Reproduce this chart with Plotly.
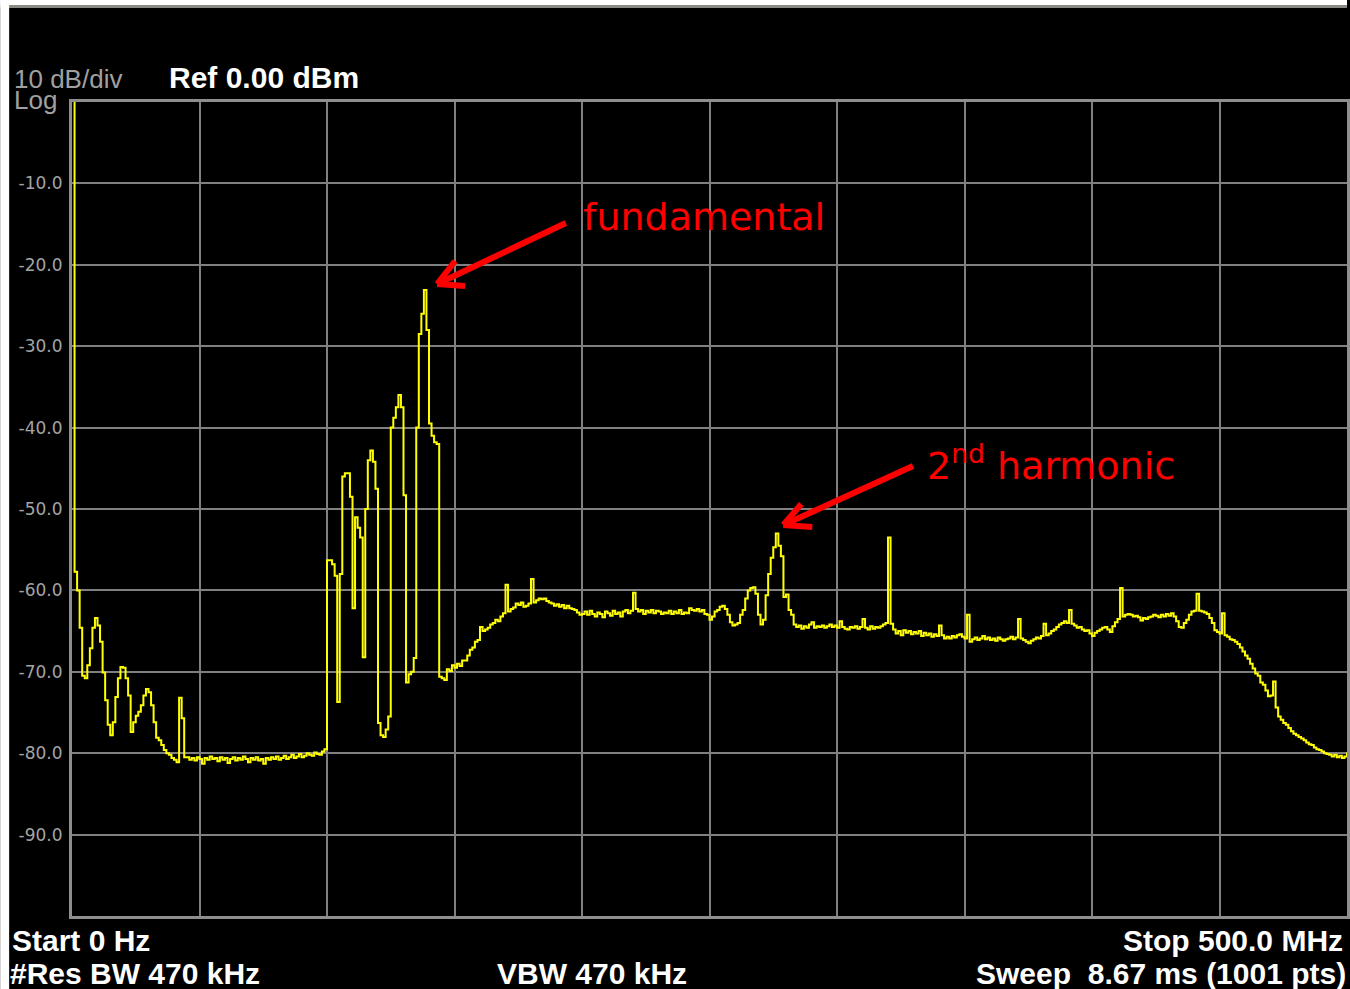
import numpy as np
import plotly.graph_objects as go

# Sweep settings
start_mhz = 0.0
stop_mhz = 500.0
ref_level = 0.0
db_per_div = 10

# Trace levels (dBm), one reading per MHz from 0 to 500 MHz
level_dbm = [
    # 0-44 MHz: LO feedthrough and low-frequency ripples
    5.0, -57.7, -60.0, -64.6, -70.5, -70.8, -69.2, -67.1, -64.6, -63.4,
    -64.3, -66.3, -70.1, -73.5, -76.5, -77.8, -76.2, -73.1, -70.8, -69.4,
    -69.5, -70.8, -72.9, -77.4, -76.2, -75.4, -74.9, -74.1, -72.9, -72.1,
    -72.5, -74.1, -76.2, -78.1, -78.4, -79.0, -79.6, -80.0, -80.2, -80.6,
    -80.8, -81.1, -73.2, -75.7, -80.5,
    # 45-99 MHz: noise floor
    -80.5, -80.8, -80.6, -80.9, -80.5, -80.7, -81.3, -80.6, -80.8, -80.4,
    -80.7, -80.6, -81.0, -80.5, -80.8, -80.6, -81.2, -80.7, -80.5, -80.9,
    -80.6, -80.8, -80.4, -80.7, -81.1, -80.6, -80.8, -80.5, -80.9, -80.7,
    -81.3, -80.6, -80.8, -80.5, -80.7, -80.4, -80.8, -80.6, -80.3, -80.7,
    -80.5, -80.2, -80.6, -80.4, -80.1, -80.5, -80.3, -80.0, -80.2, -80.3,
    -79.9, -80.1, -80.2, -79.8, -79.5,
    # 100-159 MHz: fundamental cluster
    -56.3, -56.3, -56.8, -58.2, -73.7, -58.0, -46.0, -45.6, -45.6, -48.5,
    -62.2, -51.0, -52.3, -53.5, -68.2, -50.0, -44.0, -42.8, -44.2, -47.5,
    -76.3, -77.8, -78.0, -77.1, -75.5, -40.0, -38.8, -37.5, -36.0, -37.5,
    -48.3, -71.3, -70.3, -70.0, -68.3, -40.0, -28.5, -26.0, -23.1, -28.0,
    -39.5, -41.0, -41.8, -42.0, -70.6, -70.8, -71.0, -69.7, -69.9, -69.2,
    -69.5, -69.0, -69.3, -68.6, -68.6, -68.0, -67.3, -67.0, -66.3, -66.1,
    # 160-219 MHz
    -64.5, -65.0, -64.8, -64.6, -64.2, -64.0, -63.6, -63.8, -63.2, -62.8,
    -59.3, -62.6, -62.3, -62.1, -61.6, -61.8, -61.5, -62.0, -61.9, -61.6,
    -58.6, -61.5, -61.2, -61.0, -61.1, -61.0, -61.3, -61.5, -61.6, -61.9,
    -61.7, -62.0, -61.8, -62.2, -61.9, -62.2, -62.3, -62.4, -62.7, -63.0,
    -62.9, -62.6, -63.0, -62.5, -62.9, -63.2, -62.7, -62.9, -63.3, -62.6,
    -62.8, -63.1, -62.5, -62.9, -62.7, -63.2, -62.6, -62.4, -62.8, -62.5,
    # 220-284 MHz: second harmonic region
    -60.3, -62.3, -62.6, -62.4, -62.9, -62.5, -62.7, -62.4, -62.8, -62.5,
    -62.6, -62.9, -62.7, -62.8, -62.5, -62.9, -62.6, -62.8, -62.4, -62.9,
    -62.7, -62.8, -62.2, -62.4, -62.5, -62.3, -62.6, -62.4, -62.9, -63.0,
    -63.6, -63.2, -62.6, -62.4, -62.0, -61.9, -62.3, -63.0, -63.9, -64.3,
    -64.2, -64.0, -63.0, -62.4, -61.0, -60.0, -59.7, -59.6, -60.4, -63.0,
    -64.2, -63.6, -60.6, -58.0, -56.0, -54.7, -53.0, -54.5, -55.8, -60.8,
    -60.5, -62.4, -63.0, -64.2, -64.5,
    # 285-349 MHz
    -64.3, -64.7, -64.4, -64.6, -64.2, -63.9, -64.6, -64.4, -64.5, -64.3,
    -64.6, -64.4, -64.2, -64.5, -64.3, -64.6, -63.8, -64.5, -64.7, -64.8,
    -64.5, -64.6, -64.4, -64.7, -64.5, -63.5, -64.6, -64.8, -64.4, -64.7,
    -64.5, -64.6, -64.4, -64.2, -64.0, -53.5, -64.1, -64.8, -65.3, -65.0,
    -65.5, -64.9, -65.2, -65.0, -65.4, -65.1, -65.3, -65.0, -65.6, -65.2,
    -65.5, -65.3, -65.7, -65.4, -65.6, -64.3, -65.5, -65.9, -65.7, -65.9,
    -65.6, -65.8, -65.5, -65.4, -65.7,
    # 350-409 MHz
    -65.9, -63.0, -66.3, -66.0, -65.8, -66.1, -65.9, -65.6, -66.0, -65.8,
    -66.1, -65.9, -66.2, -65.8, -66.0, -66.2, -66.0, -65.9, -65.7, -66.0,
    -65.8, -63.5, -65.9, -66.1, -66.3, -66.5, -66.2, -66.0, -65.8, -65.9,
    -65.6, -64.1, -65.5, -65.3, -65.0, -64.8, -64.5, -64.2, -64.0, -63.8,
    -64.0, -62.4, -64.1, -64.3, -64.6, -64.5, -64.8, -65.0, -64.9, -65.3,
    -65.6, -65.2, -65.0, -64.8, -64.6, -64.5, -64.8, -65.1, -64.4, -63.9,
    # 410-469 MHz
    -63.5, -59.7, -63.2, -63.0, -62.9, -63.0, -63.2, -63.1, -63.3, -63.7,
    -63.4, -63.5, -63.3, -63.2, -63.0, -63.1, -63.3, -63.0, -63.2, -62.9,
    -63.1, -62.8, -63.2, -63.8, -64.5, -64.6, -64.0, -63.6, -63.0, -62.6,
    -62.5, -60.4, -62.5, -62.6, -62.7, -62.9, -63.4, -64.0, -64.9, -65.1,
    -65.3, -62.8, -65.5, -65.7, -66.0, -66.1, -66.3, -66.6, -67.0, -67.5,
    -68.0, -68.4, -69.0, -69.6, -70.2, -70.5, -71.3, -71.6, -72.3, -73.0,
    # 470-500 MHz: band edge roll-off
    -72.9, -71.2, -74.4, -75.5, -75.9, -76.3, -76.5, -76.9, -77.3, -77.6,
    -77.8, -78.0, -78.2, -78.4, -78.7, -78.9, -79.0, -79.3, -79.5, -79.6,
    -79.8, -80.0, -80.1, -80.2, -80.4, -80.2, -80.5, -80.3, -80.6, -80.4,
    -79.9,
]

freq_mhz = np.linspace(start_mhz, stop_mhz, len(level_dbm))

y_ticks = [-90, -80, -70, -60, -50, -40, -30, -20, -10]
y_tick_text = ["-90.0", "-80.0", "-70.0", "-60.0", "-50.0", "-40.0", "-30.0", "-20.0", "-10.0"]

# Canvas geometry (pixels) used to place text in paper coordinates
W, H = 1350, 989
L, R, T, B = 72, 0, 102, 73
PW, PH = W - L - R, H - T - B


def px(x):
    return (x - L) / PW


def py(y):
    return (H - B - y) / PH


fig = go.Figure()
fig.add_trace(go.Scatter(
    x=freq_mhz, y=level_dbm, mode="lines",
    line=dict(color="#ffff00", width=2, shape="hv"),
    hoverinfo="skip", showlegend=False,
))

grid_col = "#808080"
frame_col = "#8e8e8e"
fig.update_xaxes(
    range=[start_mhz, stop_mhz], dtick=50, tick0=0,
    showgrid=True, gridcolor=grid_col, gridwidth=1.5,
    showticklabels=False, ticks="", zeroline=False,
    showline=True, linecolor=frame_col, linewidth=3, mirror=True,
)
fig.update_yaxes(
    range=[ref_level - 10 * db_per_div, ref_level],
    tickvals=y_ticks, ticktext=y_tick_text,
    showgrid=True, gridcolor=grid_col, gridwidth=1.5,
    ticks="", zeroline=False,
    tickfont=dict(family="DejaVu Sans", size=17, color="#a4a4a4"),
    showline=True, linecolor=frame_col, linewidth=3, mirror=True,
    ticklabelstandoff=3,
)

shapes = [
    # white strip across the top with a grey edge
    dict(type="rect", xref="paper", yref="paper", x0=px(0), x1=px(W), y0=py(5), y1=py(0),
         fillcolor="white", line_width=0, layer="above"),
    dict(type="rect", xref="paper", yref="paper", x0=px(0), x1=px(W), y0=py(8), y1=py(5),
         fillcolor="#8a8a82", line_width=0, layer="above"),
    # white strip on the left
    dict(type="rect", xref="paper", yref="paper", x0=px(0), x1=px(9), y0=py(H), y1=py(0),
         fillcolor="white", line_width=0, layer="above"),
]


def arrow(tail, tip, arm1, arm2):
    pts = [(tail, tip), (tip, arm1), (tip, arm2)]
    out = []
    for a, b in pts:
        out.append(dict(type="line", xref="paper", yref="paper",
                        x0=px(a[0]), y0=py(a[1]), x1=px(b[0]), y1=py(b[1]),
                        line=dict(color="#ff0000", width=6), layer="above"))
    return out


shapes += arrow((567, 223), (438, 284), (456, 261), (466, 286))
shapes += arrow((915, 466), (785, 525), (803, 504), (814, 527))

white_bold = dict(family="Liberation Sans", size=30, color="white")
grey = dict(family="Liberation Sans", size=26, color="#a0a0a0")
red = dict(family="DejaVu Sans", size=38, color="#ff0000")

annotations = [
    dict(text="10 dB/div", x=px(13), y=py(79), xanchor="left", yanchor="middle", font=grey),
    dict(text="Log", x=px(13), y=py(100), xanchor="left", yanchor="middle", font=grey),
    dict(text="<b>Ref 0.00 dBm</b>", x=px(168), y=py(78), xanchor="left", yanchor="middle", font=white_bold),
    dict(text="<b>Start 0 Hz</b>", x=px(11), y=py(940), xanchor="left", yanchor="middle", font=white_bold),
    dict(text="<b>#Res BW 470 kHz</b>", x=px(9), y=py(973), xanchor="left", yanchor="middle", font=white_bold),
    dict(text="<b>VBW 470 kHz</b>", x=px(593), y=py(973), xanchor="center", yanchor="middle", font=white_bold),
    dict(text="<b>Stop 500.0 MHz</b>", x=px(1347), y=py(940), xanchor="right", yanchor="middle", font=white_bold),
    dict(text="<b>Sweep&nbsp;&nbsp;8.67 ms (1001 pts)</b>", x=px(1350), y=py(973), xanchor="right", yanchor="middle", font=white_bold),
    dict(text="fundamental", x=px(583), y=py(217), xanchor="left", yanchor="middle", font=red),
    dict(text="2<sup>nd</sup> harmonic", x=px(928), y=py(463), xanchor="left", yanchor="middle", font=red),
]
for a in annotations:
    a.update(xref="paper", yref="paper", showarrow=False, borderpad=0)

fig.update_layout(
    width=W, height=H,
    margin=dict(l=L, r=R, t=T, b=B, pad=0),
    paper_bgcolor="black", plot_bgcolor="black",
    shapes=shapes, annotations=annotations,
    showlegend=False,
)

fig.write_html("out.html", include_plotlyjs=True, config={"displayModeBar": False})
